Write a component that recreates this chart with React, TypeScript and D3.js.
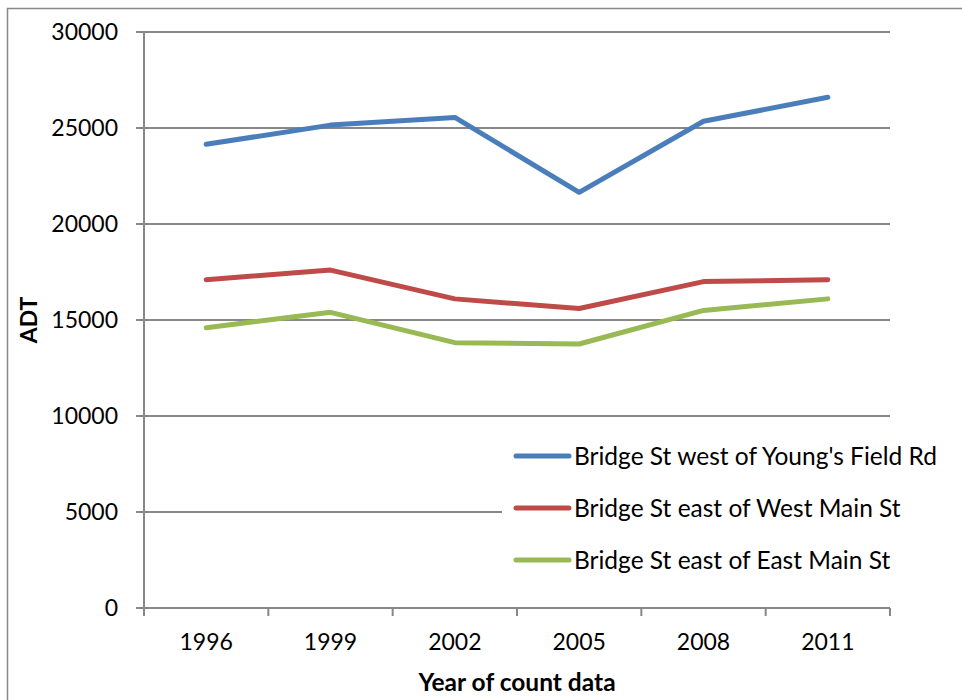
import React, { useEffect, useRef } from "react";
import * as d3 from "d3";

const years = ["1996", "1999", "2002", "2005", "2008", "2011"];
const youngsField = [24150, 25150, 25550, 21650, 25350, 26600];
const westMain = [17100, 17600, 16100, 15600, 17000, 17100];
const eastMain = [14600, 15400, 13820, 13750, 15500, 16100];
const seriesNames = [
  "Bridge St west of Young's Field Rd",
  "Bridge St east of West Main St",
  "Bridge St east of East Main St",
];
const seriesColors = ["#4a7ebb", "#be4b48", "#98b954"];
const yTicks = [0, 5000, 10000, 15000, 20000, 25000, 30000];

const FONT = "Lato, 'Open Sans', sans-serif";

const App: React.FC = () => {
  const ref = useRef<SVGSVGElement | null>(null);

  useEffect(() => {
    const width = 962;
    const height = 700;
    const left = 144;
    const right = 890;
    const top = 32;
    const bottom = 608;

    const svg = d3.select(ref.current);
    svg.selectAll("*").remove();
    svg.attr("width", width).attr("height", height);

    svg.append("rect").attr("width", width).attr("height", height).attr("fill", "#fff");

    // outer chart border (right/bottom run off the picture)
    svg
      .append("rect")
      .attr("x", 7.5)
      .attr("y", 8.5)
      .attr("width", 1000)
      .attr("height", 800)
      .attr("fill", "none")
      .attr("stroke", "#888")
      .attr("stroke-width", 1.5);

    const x = d3.scaleBand().domain(years).range([left, right]).padding(0);
    const y = d3.scaleLinear().domain([0, 30000]).range([bottom, top]);

    // gridlines + y ticks
    const grid = svg.append("g").attr("stroke", "#878787").attr("stroke-width", 2);
    grid
      .selectAll("line.grid")
      .data(yTicks)
      .enter()
      .append("line")
      .attr("x1", left - 8)
      .attr("x2", right)
      .attr("y1", (d) => y(d))
      .attr("y2", (d) => y(d));

    // y axis line
    grid.append("line").attr("x1", left).attr("x2", left).attr("y1", top).attr("y2", bottom);

    // x ticks at band edges
    const edges = years.map((d) => x(d) ?? 0).concat([right]);
    grid
      .selectAll("line.xt")
      .data(edges)
      .enter()
      .append("line")
      .attr("x1", (d) => d)
      .attr("x2", (d) => d)
      .attr("y1", bottom)
      .attr("y2", bottom + 8);

    // y tick labels
    svg
      .append("g")
      .selectAll("text")
      .data(yTicks)
      .enter()
      .append("text")
      .attr("x", 118)
      .attr("y", (d) => y(d))
      .attr("dy", "0.36em")
      .attr("text-anchor", "end")
      .style("font-family", FONT)
      .style("font-size", "23px")
      .attr("fill", "#000")
      .text((d) => d.toString());

    // x tick labels
    svg
      .append("g")
      .selectAll("text")
      .data(years)
      .enter()
      .append("text")
      .attr("x", (d) => (x(d) ?? 0) + x.bandwidth() / 2)
      .attr("y", 650)
      .attr("text-anchor", "middle")
      .style("font-family", FONT)
      .style("font-size", "23px")
      .attr("fill", "#000")
      .text((d) => d);

    // axis titles
    svg
      .append("text")
      .attr("transform", `translate(37,320) rotate(-90)`)
      .attr("text-anchor", "middle")
      .style("font-family", FONT)
      .style("font-size", "23px")
      .style("font-weight", "bold")
      .text("ADT");

    svg
      .append("text")
      .attr("x", 517)
      .attr("y", 691)
      .attr("text-anchor", "middle")
      .style("font-family", FONT)
      .style("font-size", "24.5px")
      .style("font-weight", "bold")
      .text("Year of count data");

    // legend background hides the grid behind it
    svg
      .append("rect")
      .attr("x", 502)
      .attr("y", 424)
      .attr("width", 450)
      .attr("height", 176)
      .attr("fill", "#fff");

    // lines
    const line = d3
      .line<number>()
      .x((_, i) => (x(years[i]) ?? 0) + x.bandwidth() / 2)
      .y((d) => y(d));

    const allSeries = [youngsField, westMain, eastMain];
    allSeries.forEach((vals, i) => {
      svg
        .append("path")
        .attr("d", line(vals) ?? "")
        .attr("fill", "none")
        .attr("stroke", seriesColors[i])
        .attr("stroke-width", 5)
        .attr("stroke-linecap", "round")
        .attr("stroke-linejoin", "round");
    });

    // legend
    const legend = svg.append("g");
    seriesNames.forEach((name, i) => {
      const ly = 456 + i * 52;
      legend
        .append("line")
        .attr("x1", 516)
        .attr("x2", 569)
        .attr("y1", ly)
        .attr("y2", ly)
        .attr("stroke", seriesColors[i])
        .attr("stroke-width", 5)
        .attr("stroke-linecap", "round");
      legend
        .append("text")
        .attr("x", 574)
        .attr("y", ly)
        .attr("dy", "0.36em")
        .style("font-family", FONT)
        .style("font-size", "24.5px")
        .attr("fill", "#000")
        .text(name);
    });
  }, []);

  return (
    <>
      <style>{`body{margin:0}`}</style>
      <svg ref={ref}></svg>
    </>
  );
};

export default App;
